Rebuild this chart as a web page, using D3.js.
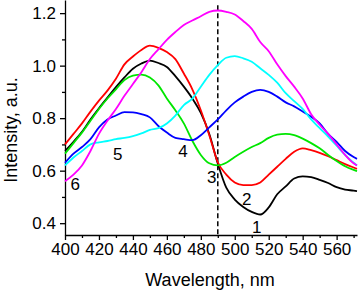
<!DOCTYPE html>
<html>
<head>
<meta charset="utf-8">
<script src="https://cdn.jsdelivr.net/npm/d3@7"></script>
<style>
  body { margin: 0; background: #fff; }
  svg { display: block; font-family: "Liberation Sans", Arial, sans-serif; }
</style>
</head>
<body>
<svg id="drawing_region"></svg>
<script>
const wavelengths = [400,405,410,415,420,425,430,435,440,445,450,455,460,465,470,475,480,485,490,495,500,505,510,515,520,525,530,535,540,545,550,555,560,565,570,572];

const curve1 = [0.675,0.71,0.748,0.795,0.838,0.878,0.918,0.955,0.988,1.008,1.019,1.01,0.995,0.96,0.92,0.875,0.82,0.74,0.627,0.535,0.49,0.462,0.443,0.433,0.46,0.51,0.54,0.57,0.578,0.575,0.565,0.553,0.537,0.528,0.524,0.522];
const curve2 = [0.70,0.74,0.78,0.825,0.867,0.905,0.95,1.005,1.035,1.06,1.076,1.068,1.052,1.025,0.97,0.91,0.83,0.735,0.632,0.585,0.555,0.545,0.545,0.555,0.585,0.615,0.645,0.672,0.685,0.678,0.668,0.655,0.64,0.625,0.612,0.607];
const curve3 = [0.665,0.705,0.745,0.79,0.835,0.875,0.91,0.945,0.962,0.966,0.955,0.925,0.875,0.83,0.78,0.714,0.66,0.628,0.62,0.63,0.652,0.672,0.69,0.705,0.725,0.737,0.74,0.735,0.722,0.705,0.685,0.66,0.637,0.617,0.603,0.598];
const curve4 = [0.63,0.665,0.69,0.72,0.765,0.795,0.81,0.823,0.822,0.815,0.803,0.77,0.745,0.725,0.72,0.716,0.735,0.765,0.795,0.83,0.86,0.882,0.9,0.908,0.9,0.882,0.86,0.845,0.825,0.805,0.78,0.74,0.71,0.675,0.652,0.645];
const curve5 = [0.62,0.65,0.675,0.70,0.708,0.713,0.72,0.725,0.732,0.742,0.755,0.762,0.78,0.81,0.85,0.874,0.92,0.965,1.002,1.03,1.036,1.028,1.015,0.99,0.965,0.935,0.895,0.865,0.835,0.795,0.762,0.73,0.695,0.66,0.63,0.62];
const curve6 = [0.56,0.585,0.62,0.675,0.74,0.79,0.835,0.885,0.93,0.975,1.025,1.062,1.098,1.128,1.155,1.172,1.188,1.205,1.21,1.205,1.195,1.17,1.14,1.09,1.055,1.005,0.96,0.92,0.875,0.815,0.775,0.74,0.70,0.66,0.628,0.62];

const seriesNames = ["1","2","3","4","5","6"];
const seriesValues = [curve1, curve2, curve3, curve4, curve5, curve6];
const seriesColors = ["#000000","#ff0000","#00e600","#0000ff","#00ffff","#ff00ff"];

const xTicks = [400,420,440,460,480,500,520,540,560];
const yTicks = [0.4,0.6,0.8,1.0,1.2];
const markerWavelength = 490;

// label anchors (wavelength, intensity at text baseline) for the curve numbers
const labelPos = [[513,0.364],[507,0.47],[486.5,0.554],[469.5,0.653],[431,0.642],[406,0.528]];

const width = 358, height = 291;
const margin = {top: 0, right: 1, bottom: 56, left: 65};

const svg = d3.select('#drawing_region')
    .attr('width', width)
    .attr('height', height);

const chart = svg.append('g')
    .attr('transform', `translate(${margin.left}, ${margin.top})`);

const inner_width = width - margin.left - margin.right;
const inner_height = height - margin.top - margin.bottom;

const xscale = d3.scaleLinear()
    .domain([400, 572])
    .range([0, inner_width]);

const yscale = d3.scaleLinear()
    .domain([0.355, 1.25])
    .range([inner_height, 0]);

// minor ticks first
chart.append('g')
    .attr('transform', `translate(0, ${inner_height})`)
    .call(d3.axisBottom(xscale).tickValues(d3.range(410, 572, 20)).tickSize(3).tickFormat(''))
    .call(g => g.select('.domain').remove());

chart.append('g')
    .call(d3.axisLeft(yscale).tickValues([0.5,0.7,0.9,1.1]).tickSize(3).tickFormat(''))
    .call(g => g.select('.domain').remove());

const xaxis_group = chart.append('g')
    .attr('transform', `translate(0, ${inner_height})`)
    .call(d3.axisBottom(xscale).tickValues(xTicks).tickSize(5).tickPadding(3).tickSizeOuter(0));

const yaxis_group = chart.append('g')
    .call(d3.axisLeft(yscale).tickValues(yTicks).tickSize(5).tickPadding(4).tickSizeOuter(0)
        .tickFormat(d3.format('.1f')));

svg.selectAll('.tick text')
    .attr('font-size', '17px')
    .attr('fill', '#000')
    .attr('font-family', '"Liberation Sans", Arial, sans-serif');
svg.selectAll('.domain, .tick line').attr('stroke', '#000').attr('stroke-width', 1.3);

// dashed marker
chart.append('line')
    .attr('x1', xscale(markerWavelength))
    .attr('x2', xscale(markerWavelength))
    .attr('y1', yscale(1.23))
    .attr('y2', inner_height)
    .attr('stroke', '#000')
    .attr('stroke-width', 1.5)
    .attr('stroke-dasharray', '5,3');

const line = d3.line()
    .x((d, i) => xscale(wavelengths[i]))
    .y(d => yscale(d))
    .curve(d3.curveMonotoneX);

chart.selectAll('path.curve')
    .data(seriesValues)
    .enter()
    .append('path')
    .attr('class', 'curve')
    .attr('fill', 'none')
    .attr('stroke', (d, i) => seriesColors[i])
    .attr('stroke-width', 1.8)
    .attr('d', line);

chart.selectAll('text.curve-label')
    .data(labelPos)
    .enter()
    .append('text')
    .attr('class', 'curve-label')
    .attr('x', d => xscale(d[0]))
    .attr('y', d => yscale(d[1]))
    .attr('text-anchor', 'middle')
    .attr('font-size', '17px')
    .attr('fill', '#000')
    .text((d, i) => seriesNames[i]);

svg.append('text')
    .attr('x', 210)
    .attr('y', 286)
    .attr('text-anchor', 'middle')
    .attr('font-size', '18px')
    .attr('fill', '#000')
    .text('Wavelength, nm');

svg.append('text')
    .attr('transform', 'rotate(-90)')
    .attr('x', -130)
    .attr('y', 17)
    .attr('text-anchor', 'middle')
    .attr('font-size', '18px')
    .attr('fill', '#000')
    .text('Intensity, a.u.');
</script>
</body>
</html>
